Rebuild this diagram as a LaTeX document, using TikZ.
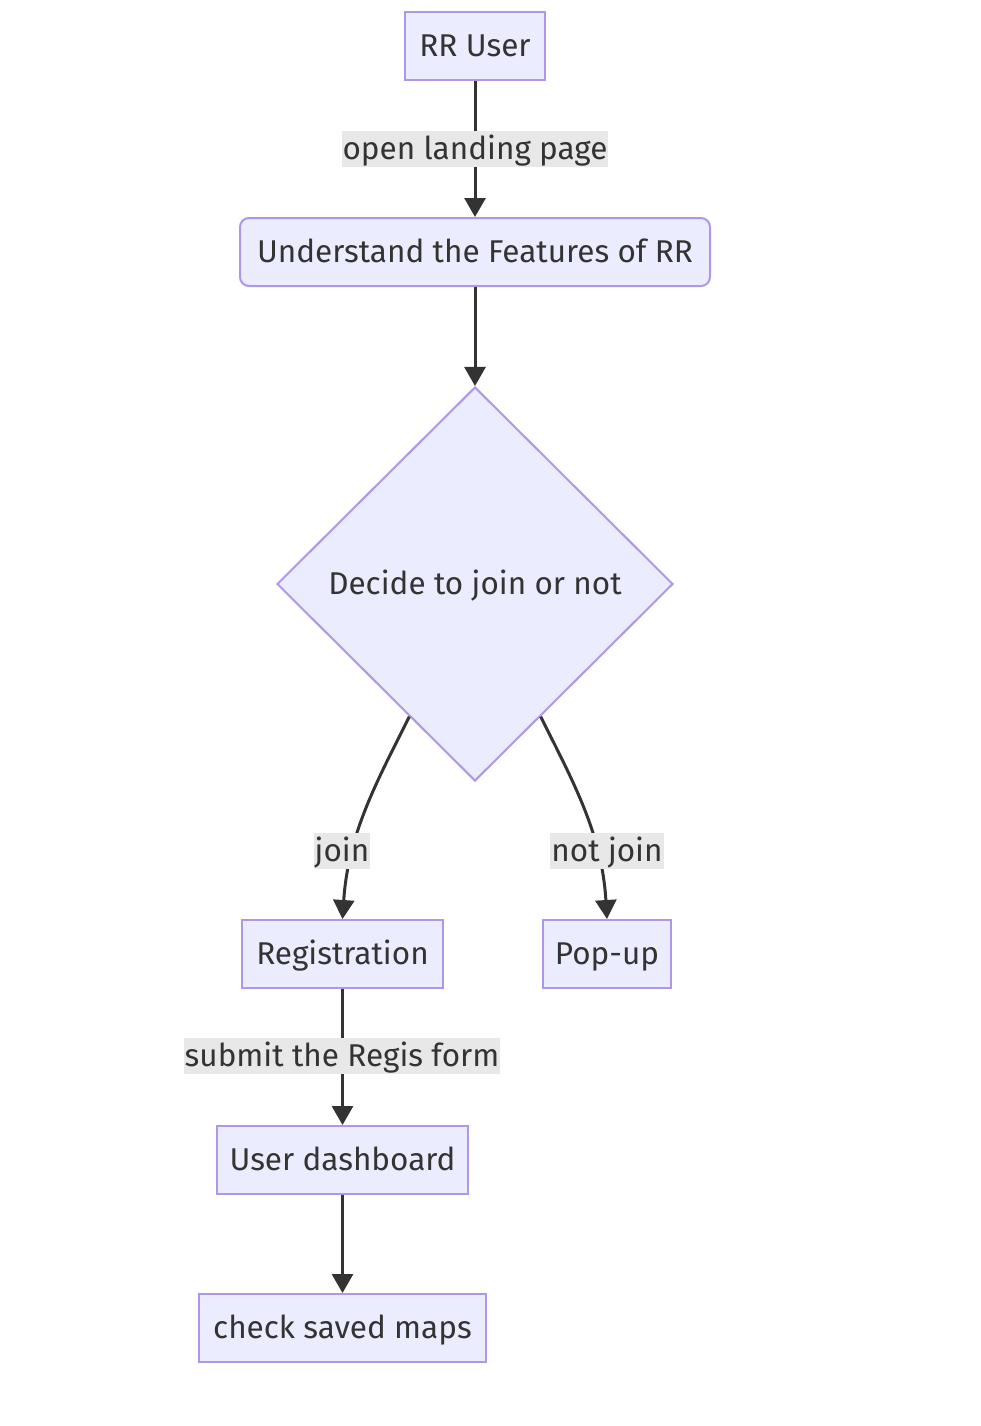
\documentclass[tikz,border=0pt]{standalone}
\usepackage{fontspec}
\setmainfont{Fira Sans}
\usetikzlibrary{arrows.meta,shapes.geometric,calc}
\definecolor{nfill}{HTML}{ECECFF}
\definecolor{nborder}{HTML}{AE97E8}
\definecolor{ink}{HTML}{333333}
\definecolor{lblbg}{HTML}{E8E8E8}
\begin{document}
\begin{tikzpicture}[x=1pt,y=-1pt,
  font=\fontsize{31.5}{36}\selectfont, text=ink,
  every node/.append style={text height=28.5pt, text depth=7.5pt},
  box/.style={draw=nborder, fill=nfill, line width=2pt, minimum height=68pt, inner sep=0pt},
  rbox/.style={box, rounded corners=9pt},
  dec/.style={draw=nborder, fill=nfill, line width=2pt, diamond, aspect=1, minimum width=396pt, minimum height=394pt, inner sep=0pt},
  lbl/.style={fill=lblbg, inner xsep=1pt, inner ysep=0pt, minimum height=36pt},
  edge/.style={draw=ink, line width=3pt, -{Triangle[width=21pt,length=19pt]}}]
\useasboundingbox (0,0) rectangle (980,1426);
\node[box, minimum width=140pt] (user) at (475,46) {RR User};
\node[rbox, minimum width=470pt] (feat) at (475,252) {Understand the Features of RR};
\node[dec] (dec) at (475,584) {Decide to join or not};
\node[box, minimum width=201pt] (reg) at (342.5,954) {Registration};
\node[box, minimum width=128pt] (pop) at (607,954) {Pop-up};
\node[box, minimum width=251pt] (dash) at (342.5,1160) {User dashboard};
\node[box, minimum width=287pt] (maps) at (342.5,1328) {check saved maps};
\coordinate (dl) at ($(dec.west)!0.67!(dec.south)$);
\coordinate (dr) at ($(dec.east)!0.67!(dec.south)$);
\draw[edge] (user) -- (feat);
\draw[edge] (feat) -- (dec);
\draw[edge] (dl) .. controls (375,785) and (348,835) .. (reg.north);
\draw[edge] (dr) .. controls (575,785) and (602,835) .. (pop.north);
\draw[edge] (reg) -- (dash);
\draw[edge] (dash) -- (maps);
\node[lbl] (l1) at (475,149) {open landing page};
\node[lbl] (l2) at (342,851) {join};
\node[lbl] (l3) at (607,851) {not join};
\node[lbl] (l4) at (342,1056) {submit the Regis form};
\end{tikzpicture}
\end{document}
